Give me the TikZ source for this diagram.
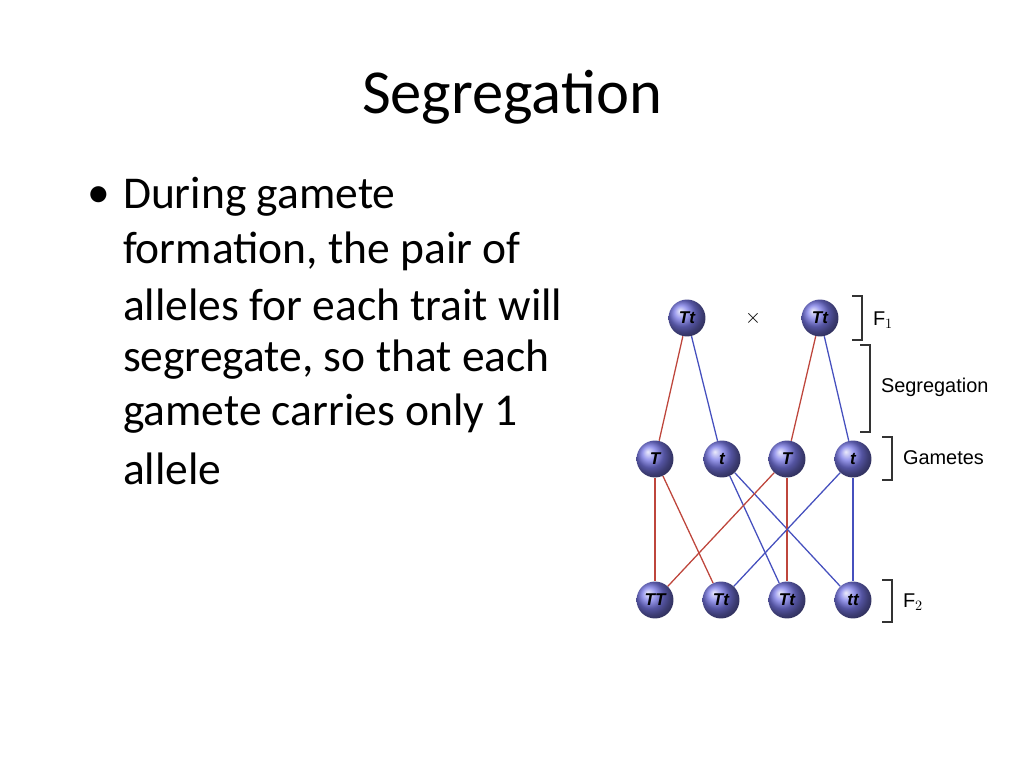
\documentclass[tikz,border=0pt]{standalone}
\usepackage{fontspec}
\setmainfont{Carlito}
\newfontfamily\lbfont{Liberation Sans}
\usepackage{tikz}

\definecolor{allelered}{RGB}{190,70,60}
\definecolor{alleleblue}{RGB}{70,80,190}

\begin{document}
\begin{tikzpicture}[x=0.703pt,y=-0.703pt,
  allele/.style={shape=circle,minimum size=26pt,inner sep=0pt,ball color={rgb,255:red,120;green,120;blue,230},font=\lbfont\bfseries\itshape\fontsize{12}{12}\selectfont},
  redline/.style={draw=allelered,line width=0.9pt},
  blueline/.style={draw=alleleblue,line width=0.9pt},
  brk/.style={draw=black!80,line width=0.9pt},
  side/.style={font=\lbfont\fontsize{14}{14}\selectfont,anchor=west}]
\useasboundingbox (0,0) rectangle (1024,768);
\node (title) at (512,97) {\fontsize{44}{50}\selectfont Segregation};
\node[anchor=north west,text width=470\pgflinewidth,align=left] (body) at (80,170)
  {};
\node[anchor=west] (bullet) at (82,197) {\fontsize{32}{38}\selectfont •};
\node[anchor=west] (l1) at (118,197) {\fontsize{32}{38}\selectfont During gamete};
\node[anchor=west] (l2) at (118,251) {\fontsize{32}{38}\selectfont formation, the pair of};
\node[anchor=west] (l3) at (118,305) {\fontsize{32}{38}\selectfont alleles for each trait will};
\node[anchor=west] (l4) at (118,360) {\fontsize{32}{38}\selectfont segregate, so that each};
\node[anchor=west] (l5) at (118,414) {\fontsize{32}{38}\selectfont gamete carries only 1};
\node[anchor=west] (l6) at (118,469) {\fontsize{32}{38}\selectfont allele};
% parents
\node[allele] (P1) at (687,318) {Tt};
\node[allele] (P2) at (820,318) {Tt};
\node (cross) at (753,318) {\lbfont\fontsize{14}{14}\selectfont $\times$};
% gametes
\node[allele] (G1) at (655,459) {T};
\node[allele] (G2) at (722,459) {t};
\node[allele] (G3) at (787,459) {T};
\node[allele] (G4) at (853,459) {t};
% offspring
\node[allele] (O1) at (655,600) {TT};
\node[allele] (O2) at (721,600) {Tt};
\node[allele] (O3) at (787,600) {Tt};
\node[allele] (O4) at (853,600) {tt};
% connectors
\begin{scope}[on background layer/.style={}]
\path[redline] (P1) -- (G1);
\path[blueline] (P1) -- (G2);
\path[redline] (P2) -- (G3);
\path[blueline] (P2) -- (G4);
\path[redline] (G1) -- (O1);
\path[redline] (G1) -- (O2);
\path[blueline] (G2) -- (O3);
\path[blueline] (G2) -- (O4);
\path[redline] (G3) -- (O1);
\path[redline] (G3) -- (O3);
\path[blueline] (G4) -- (O2);
\path[blueline] (G4) -- (O4);
\end{scope}
% brackets
\coordinate (b1) at (852,296); \coordinate (b1e) at (852,340);
\draw[brk] (b1) -- ++(10,0) |- (b1e);
\node[side] (f1) at (868,320) {F$_1$};
\coordinate (b2) at (860,345); \coordinate (b2e) at (860,432);
\draw[brk] (b2) -- ++(10,0) |- (b2e);
\node[side] (seg) at (876,387) {Segregation};
\coordinate (b3) at (882,437); \coordinate (b3e) at (882,480);
\draw[brk] (b3) -- ++(10,0) |- (b3e);
\node[side] (gam) at (898,458) {Gametes};
\coordinate (b4) at (882,580); \coordinate (b4e) at (882,622);
\draw[brk] (b4) -- ++(10,0) |- (b4e);
\node[side] (f2) at (898,602) {F$_2$};
\end{tikzpicture}
\end{document}
